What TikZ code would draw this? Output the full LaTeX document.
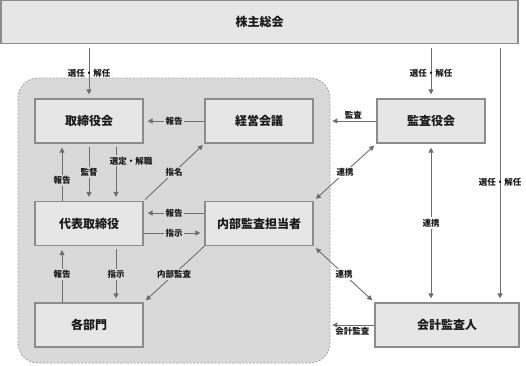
\documentclass[tikz,border=0pt]{standalone}
\usepackage{fontspec}
\setmainfont{Noto Sans CJK JP}
\usetikzlibrary{arrows.meta,calc}
\definecolor{regbg}{HTML}{D9D9D9}
\definecolor{boxbg}{HTML}{E6E6E6}
\definecolor{boxline}{HTML}{8C8C8C}
\definecolor{arrcol}{HTML}{6E6E6E}
\definecolor{txt}{HTML}{1A1A1A}
\begin{document}
\begin{tikzpicture}[x=1pt,y=-1pt,
 box/.style={draw=boxline, line width=1.2pt, fill=boxbg, minimum width=108pt, minimum height=44pt, inner sep=0pt, font=\fontsize{12}{14}\selectfont\bfseries, text=txt},
 arr/.style={draw=arrcol, line width=0.9pt, -{Triangle[width=5pt,length=5pt]}, shorten >=4pt},
 darr/.style={arr, {Triangle[width=5pt,length=5pt]}-{Triangle[width=5pt,length=5pt]}, shorten <=4pt},
 lab/.style={font=\fontsize{8.5}{10}\selectfont\bfseries, text=txt, inner sep=1.5pt},
 labin/.style={lab, fill=regbg},
 labout/.style={lab, fill=white},
 region/.style={draw=boxline!80, fill=regbg, dash pattern=on 2pt off 1.5pt, line width=0.8pt, rounded corners=20pt, minimum width=312pt, minimum height=285pt, inner sep=0pt}]
\fill[white] (0,0) rectangle (526,365);
\useasboundingbox (0,0) rectangle (526,365);

\node[region] (grp) at (174,220.5) {};

\node[box, minimum width=517pt, minimum height=43pt] (kabu) at (259.5,22) {株主総会};
\node[box] (tori) at (89,121) {取締役会};
\node[box] (keiei) at (259,121) {経営会議};
\node[box] (kansa) at (431,121) {監査役会};
\node[box] (daihyo) at (89,223.5) {代表取締役};
\node[box] (naibu) at (259,223.5) {内部監査担当者};
\node[box] (kakubu) at (89,325) {各部門};
\node[box, minimum width=144pt] (kaikei) at (447,325) {会計監査人};

\coordinate (xl) at (62,0);
\coordinate (xr) at (116,0);
\coordinate (xv) at (500,0);
\coordinate (yh) at (0,213);
\coordinate (ys) at (0,233);

% from shareholders
\draw[arr, shorten <=4pt] (kabu.south -| tori) -- (tori.north) node[lab, midway, yshift=-2pt] {選任・解任};
\draw[arr, shorten <=4pt] (kabu.south -| kansa) -- (kansa.north) node[lab, midway, yshift=-2pt] {選任・解任};
\draw[arr, shorten <=4pt] (kabu.south -| xv) -- (kaikei.north -| xv) node[lab, pos=0.535] {選任・解任};

% board
\draw[arr] (keiei.west) -- (tori.east) node[labin, midway] {報告};
\draw[arr] (daihyo.north -| xl) -- (tori.south -| xl) node[labin, pos=0.36] {報告};
\draw[arr, shorten <=3pt] (tori.south) -- (daihyo.north) node[labin, midway] {監督};
\draw[arr, shorten <=3pt] (tori.south -| xr) -- (daihyo.north -| xr) node[labin, pos=0.3, xshift=15pt] {選定・解職};
\draw[arr, shorten <=2pt, shorten >=2pt] (daihyo.north east) -- (keiei.south west) node[labin, midway] {指名};

% representative director
\draw[arr] (naibu.west |- yh) -- (daihyo.east |- yh) node[labin, midway] {報告};
\draw[arr] (daihyo.east |- ys) -- (naibu.west |- ys) node[labin, midway] {指示};
\draw[arr] (kakubu.north -| xl) -- (daihyo.south -| xl) node[labin, midway] {報告};
\draw[arr, shorten <=3pt] (daihyo.south -| xr) -- (kakubu.north -| xr) node[labin, midway] {指示};
\draw[arr, shorten >=3pt] (naibu.south west) -- (kakubu.north east) node[labin, midway] {内部監査};

% auditors
\draw[arr, shorten >=2pt] (kansa.west) -- (grp.east |- kansa.west) node[lab, midway, above] {監査};
\draw[darr, shorten <=3pt, shorten >=3pt] (kansa.south west) -- (naibu.north east) node[labout, midway] {連携};
\draw[darr] (kansa.south) -- (kaikei.north -| kansa.south) node[labout, midway] {連携};
\draw[darr, shorten <=3pt, shorten >=3pt] (naibu.south east) -- (kaikei.north west) node[labout, midway] {連携};
\draw[arr, shorten >=2pt] (kaikei.west) -- (grp.east |- kaikei.west) node[lab, midway, below] {会計監査};
\end{tikzpicture}
\end{document}
